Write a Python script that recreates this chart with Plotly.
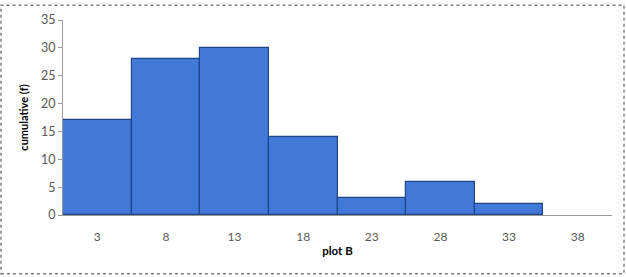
import plotly.graph_objects as go

categories = ["3", "8", "13", "18", "23", "28", "33", "38"]
values = [17, 28, 30, 14, 3, 6, 2, 0]
y_ticks = [0, 5, 10, 15, 20, 25, 30, 35]

W, H = 626, 277
L, R, T, B = 63, 14, 16, 62
pw, ph = W - L - R, H - T - B

line_widths = [1.2 if v > 0 else 0 for v in values]

fig = go.Figure(go.Bar(
    x=categories, y=values,
    marker=dict(color="#4278d8", line=dict(color="#1f4688", width=line_widths)),
))

def px2x(p): return (p - L) / pw
def px2y(p): return (H - B - p) / ph

fig.add_shape(type="rect", xref="paper", yref="paper",
              x0=px2x(1), x1=px2x(624), y0=px2y(275), y1=px2y(1),
              line=dict(color="#7f7f7f", width=1.5, dash="dot"))

fig.update_layout(
    width=W, height=H, margin=dict(l=L, r=R, t=T, b=B),
    paper_bgcolor="white", plot_bgcolor="white",
    bargap=0, showlegend=False,
    font=dict(family="Lato, Liberation Sans, sans-serif", size=12, color="#595959"),
    xaxis=dict(type="category", showgrid=False, showline=True, linecolor="#9a9a9a",
               linewidth=1, ticks="outside", ticklen=11, tickcolor="rgba(0,0,0,0)",
               tickfont=dict(size=12, color="#595959"),
               title=dict(text="<b>plot B</b>", font=dict(size=11.5, color="black"), standoff=3)),
    yaxis=dict(range=[0, 35], tickvals=y_ticks, showgrid=False, showline=True,
               linecolor="#9a9a9a", linewidth=1, ticks="outside", ticklen=4,
               tickcolor="#9a9a9a", tickfont=dict(size=12.5, color="#595959"),
               title=dict(text="<b>cumulative (f)</b>", font=dict(size=11, color="black"), standoff=10)),
)

fig.write_html("out.html")
